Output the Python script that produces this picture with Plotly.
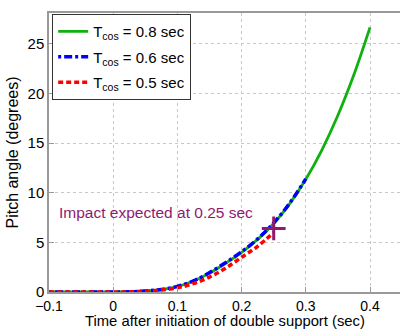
import plotly.graph_objects as go

t_green = [-0.1, -0.05, 0.0, 0.025, 0.05, 0.075, 0.1, 0.125, 0.15, 0.175, 0.2, 0.225, 0.25, 0.275, 0.3, 0.325, 0.35, 0.375, 0.4]
y_green = [0.0, 0.0, 0.0, 0.02, 0.1, 0.25, 0.55, 1.1, 1.9, 2.9, 4.0, 5.3, 6.9, 8.9, 11.35, 14.3, 17.8, 21.9, 26.65]

t_blue = [-0.1, -0.05, 0.0, 0.025, 0.05, 0.075, 0.1, 0.125, 0.15, 0.175, 0.2, 0.225, 0.25, 0.275, 0.3]
y_blue = [0.0, 0.0, 0.0, 0.02, 0.1, 0.26, 0.57, 1.12, 1.95, 2.95, 4.05, 5.35, 6.95, 8.95, 11.4]

t_red = [-0.1, -0.05, 0.0, 0.025, 0.05, 0.075, 0.1, 0.125, 0.15, 0.175, 0.2, 0.225, 0.25]
y_red = [0.0, 0.0, 0.0, 0.02, 0.08, 0.2, 0.42, 0.85, 1.5, 2.4, 3.5, 4.6, 6.0]

impact_t = [0.25]
impact_y = [6.4]

names = ["T<sub>cos</sub> = 0.8 sec", "T<sub>cos</sub> = 0.6 sec", "T<sub>cos</sub> = 0.5 sec"]
x_ticks = [-0.1, 0, 0.1, 0.2, 0.3, 0.4]
x_tick_text = ["\u22120.1", "0", "0.1", "0.2", "0.3", "0.4"]
y_ticks = [0, 5, 10, 15, 20, 25]

purple = "#8e1a70"
fig = go.Figure()
fig.add_trace(go.Scatter(x=t_green, y=y_green, mode="lines", name=names[0], legendgroup="a",
                         line=dict(color="#10b010", width=2.8, shape="spline")))
fig.add_trace(go.Scatter(x=t_blue, y=y_blue, mode="lines", name=names[1], legendgroup="b",
                         line=dict(color="#0000ff", width=3.5, dash="3px,3px,8px,3px", shape="spline")))
fig.add_trace(go.Scatter(x=t_red, y=y_red, mode="lines", name=names[2], legendgroup="c",
                         line=dict(color="#ff0000", width=3.5, dash="5px,3px", shape="spline")))
fig.add_trace(go.Scatter(x=impact_t, y=impact_y, mode="markers", showlegend=False,
                         marker=dict(symbol="cross-thin", size=17, line=dict(color=purple, width=3))))

fig.add_annotation(x=-0.088, y=8.0, xref="x", yref="y", text="Impact expected at 0.25 sec",
                   showarrow=False, xanchor="left", yanchor="middle",
                   font=dict(color=purple, size=15.5))

fig.add_annotation(x=0.5, y=0, xref="paper", yref="paper", yshift=-29,
                   text="Time after initiation of double support (sec)",
                   showarrow=False, xanchor="center", yanchor="middle",
                   font=dict(size=14.8))

fig.update_layout(
    width=400, height=329,
    margin=dict(l=49, r=0, t=13, b=37),
    paper_bgcolor="white", plot_bgcolor="white",
    font=dict(family="Liberation Sans, Arial, sans-serif", size=15, color="black"),
    showlegend=True,
    legend=dict(x=0.009, y=0.996, xanchor="left", yanchor="top",
                bgcolor="white", bordercolor="#333333", borderwidth=1,
                font=dict(size=15), traceorder="grouped", tracegroupgap=3, itemwidth=30),
)
fig.update_xaxes(range=[-0.1, 0.4467], tickvals=x_ticks, ticktext=x_tick_text,
                 tickfont=dict(size=14), ticklabelstandoff=0,
                 showgrid=True, gridcolor="#c8c8c8", griddash="dot", gridwidth=1,
                 showline=True, linecolor="#999999", linewidth=1.5, mirror=True,
                 ticks="inside", ticklen=5, tickcolor="#999999", zeroline=False)
fig.update_yaxes(range=[0, 28.1], tickvals=y_ticks, tickfont=dict(size=15),
                 showgrid=True, gridcolor="#c8c8c8", griddash="dot", gridwidth=1,
                 showline=True, linecolor="#999999", linewidth=1.5, mirror=False,
                 ticks="inside", ticklen=5, tickcolor="#999999", zeroline=False,
                 title=dict(text="Pitch angle (degrees)", font=dict(size=16), standoff=5))
fig.write_html("out.html")
